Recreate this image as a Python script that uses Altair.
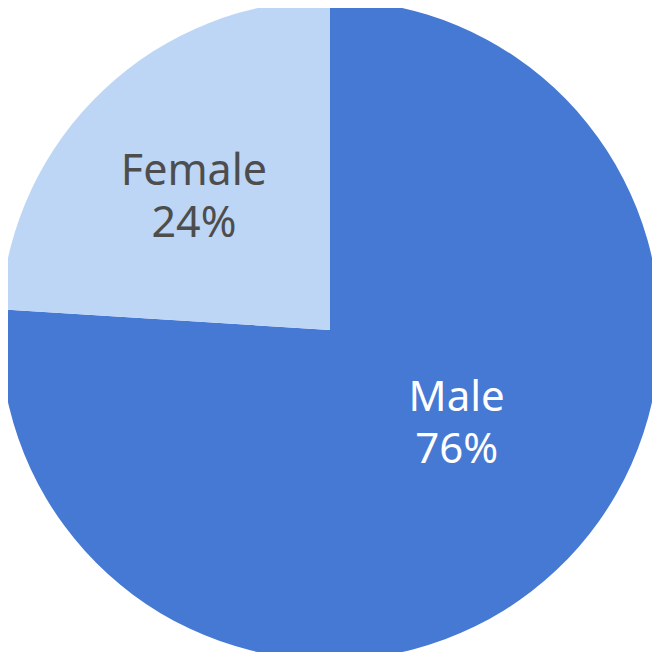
import altair as alt
import pandas as pd

categories = ["Male", "Female"]
shares = [76, 24]
colors = ["#4679D3", "#BDD6F6"]
label_colors = ["#FFFFFF", "#4D4D4D"]

df = pd.DataFrame({
    "category": categories,
    "share": shares,
    "order": list(range(len(categories))),
})
df["label"] = [[c, f"{s}%"] for c, s in zip(categories, shares)]

pie = alt.Chart(df).mark_arc(radius=330, stroke=None).encode(
    theta=alt.Theta("share:Q", stack=True),
    order=alt.Order("order:Q"),
    color=alt.Color("category:N", scale=alt.Scale(domain=categories, range=colors), legend=None),
)

text_base = alt.Chart(df).transform_joinaggregate(
    total="sum(share)"
).transform_window(
    cum="sum(share)", sort=[alt.SortField("order")]
).transform_calculate(
    mid="(datum.cum - datum.share / 2) / datum.total * 360"
).encode(
    theta=alt.Theta("mid:Q", stack=None, scale=alt.Scale(domain=[0, 360], range=[0, 6.283185307179586])),
    text="label",
)

text_male = text_base.mark_text(
    radius=150, fontSize=42, font="Noto Sans", lineHeight=52, dx=24, dy=-41, color=label_colors[0]
).transform_filter(alt.datum.category == "Male")

text_female = text_base.mark_text(
    radius=190, fontSize=43, font="Noto Sans", lineHeight=52, dx=-6, dy=-19, color=label_colors[1]
).transform_filter(alt.datum.category == "Female")

chart = alt.layer(pie, text_male, text_female).resolve_scale(
    theta="independent"
).properties(
    width=644, height=644, padding=0, autosize=alt.AutoSizeParams(type="none")
).configure_view(stroke=None)

chart.save("out.html", embed_options={"renderer": "svg", "actions": False})
